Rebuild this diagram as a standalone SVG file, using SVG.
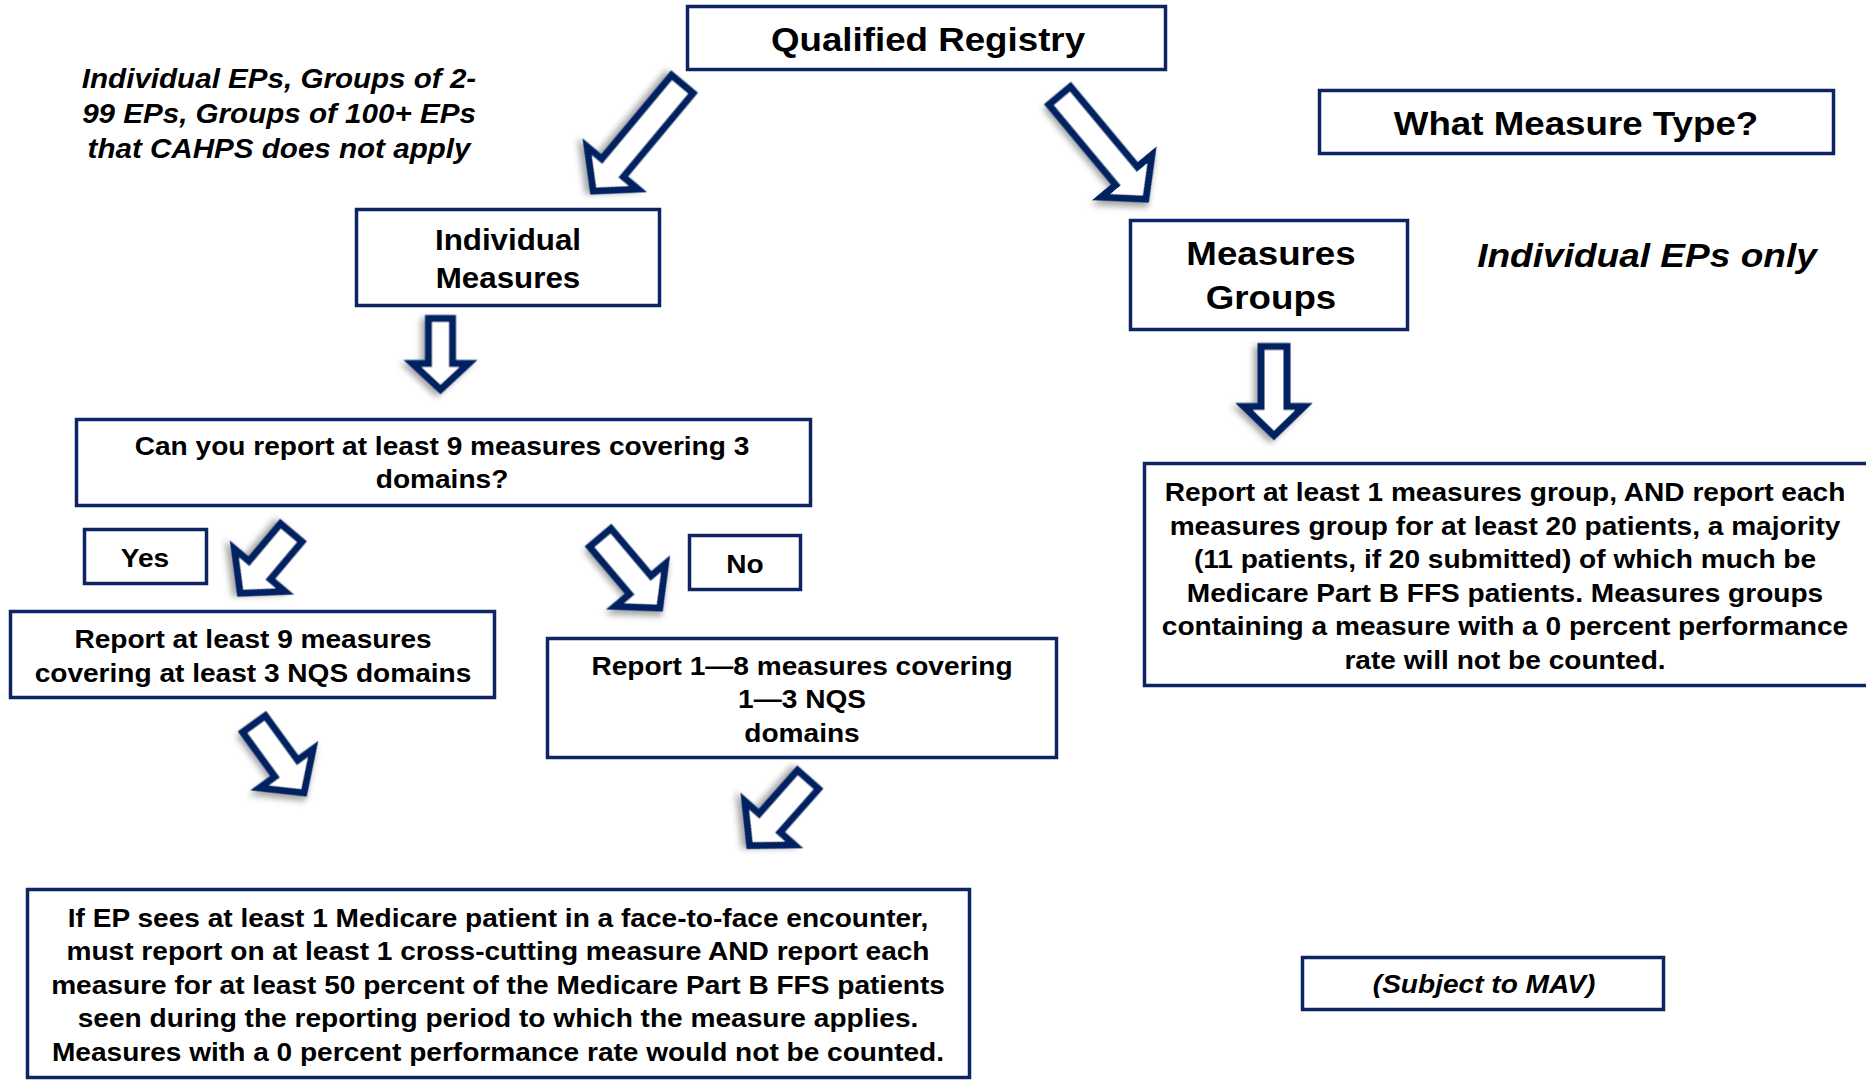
<svg xmlns="http://www.w3.org/2000/svg" width="1866" height="1081" viewBox="0 0 1866 1081">
<defs>
<filter id="sh" x="-30%" y="-30%" width="160%" height="160%">
<feDropShadow dx="3" dy="4" stdDeviation="3" flood-color="#000" flood-opacity="0.35"/>
</filter>
<style>
.box{fill:#fff;stroke:#0f2463;stroke-width:3.5}
.arr{fill:#fff;stroke:#002060;stroke-width:7;stroke-linejoin:miter;stroke-miterlimit:10;filter:url(#sh)}
text{font-family:"Liberation Sans",Arial,sans-serif;font-weight:bold;fill:#000;text-anchor:middle}
.f26{font-size:26px}
.f27{font-size:27.4px}
.f29{font-size:29px}
.f34{font-size:34px}
.it{font-style:italic}
</style>
</defs>
<rect width="1866" height="1081" fill="#fff"/>

<g id="connectors">
<path class="arr" transform="translate(682.3,84.2) rotate(129.8)" d="M0,-14 H109 V-33 L139,0 L109,33 V14 H0 Z"/>
<path class="arr" transform="translate(1059.7,95.7) rotate(50.2)" d="M0,-14 H104.5 V-33 L134.5,0 L104.5,33 V14 H0 Z"/>
<path class="arr" transform="translate(440.5,318.5) rotate(90)" d="M0,-12 H45 V-28 L71,0 L45,28 V12 H0 Z"/>
<path class="arr" transform="translate(1274,346.5) rotate(90)" d="M0,-13 H60 V-30 L89,0 L60,30 V13 H0 Z"/>
<path class="arr" transform="translate(291.2,532.7) rotate(130.1)" d="M0,-14 H49 V-33 L79,0 L49,33 V14 H0 Z"/>
<path class="arr" transform="translate(600.3,537.7) rotate(49.8)" d="M0,-14 H62 V-33 L92,0 L62,33 V14 H0 Z"/>
<path class="arr" transform="translate(254,724) rotate(54)" d="M0,-14 H55 V-33 L85,0 L55,33 V14 H0 Z"/>
<path class="arr" transform="translate(808,779.6) rotate(131.5)" d="M0,-14 H58 V-33 L88,0 L58,33 V14 H0 Z"/>
</g>

<g id="qualified-registry">
<rect class="box" x="687.5" y="6.5" width="478" height="63"/>
<text class="f34" transform="translate(928,0) scale(1.08,1)" x="0" y="51">Qualified Registry</text>
</g>

<g id="note-groups">
<text class="f27 it" transform="translate(279,0) scale(1.08,1)"><tspan x="0" y="88">Individual EPs, Groups of 2-</tspan><tspan x="0" y="123">99 EPs, Groups of 100+ EPs</tspan><tspan x="0" y="158">that CAHPS does not apply</tspan></text>
</g>

<g id="what-measure-type">
<rect class="box" x="1319.5" y="90.5" width="514" height="63"/>
<text class="f34" transform="translate(1576,0) scale(1.08,1)" x="0" y="135">What Measure Type?</text>
</g>

<g id="individual-measures">
<rect class="box" x="356.5" y="209.5" width="303" height="96"/>
<text class="f29" transform="translate(508,0) scale(1.08,1)"><tspan x="0" y="250">Individual</tspan><tspan x="0" y="288">Measures</tspan></text>
</g>

<g id="measures-groups">
<rect class="box" x="1130.5" y="220.5" width="277" height="109"/>
<text class="f34" transform="translate(1271,0) scale(1.08,1)"><tspan x="0" y="265">Measures</tspan><tspan x="0" y="309">Groups</tspan></text>
</g>

<g id="note-individual">
<text class="f34 it" transform="translate(1647,0) scale(1.09,1)" x="0" y="267">Individual EPs only</text>
</g>

<g id="can-you-report">
<rect class="box" x="76.5" y="419.5" width="734" height="86"/>
<text class="f26" transform="translate(442,0) scale(1.08,1)"><tspan x="0" y="455">Can you report at least 9 measures covering 3</tspan><tspan x="0" y="488">domains?</tspan></text>
</g>

<g id="yes">
<rect class="box" x="84.5" y="529.5" width="122" height="54"/>
<text class="f26" transform="translate(145,0) scale(1.08,1)" x="0" y="567">Yes</text>
</g>

<g id="no">
<rect class="box" x="689.5" y="535.5" width="111" height="54"/>
<text class="f26" transform="translate(745,0) scale(1.08,1)" x="0" y="573">No</text>
</g>

<g id="report-9">
<rect class="box" x="10.5" y="611.5" width="484" height="86"/>
<text class="f26" transform="translate(253,0) scale(1.08,1)"><tspan x="0" y="648">Report at least 9 measures</tspan><tspan x="0" y="682">covering at least 3 NQS domains</tspan></text>
</g>

<g id="report-1-8">
<rect class="box" x="547.5" y="638.5" width="509" height="119"/>
<text class="f26" transform="translate(802,0) scale(1.08,1)"><tspan x="0" y="675">Report 1—8 measures covering</tspan><tspan x="0" y="708">1—3 NQS</tspan><tspan x="0" y="742">domains</tspan></text>
</g>

<g id="report-group">
<rect class="box" x="1144.5" y="463.5" width="740" height="222"/>
<text class="f26" transform="translate(1505,0) scale(1.08,1)"><tspan x="0" y="501">Report at least 1 measures group, AND report each</tspan><tspan x="0" y="534.6">measures group for at least 20 patients, a majority</tspan><tspan x="0" y="568.2">(11 patients, if 20 submitted) of which much be</tspan><tspan x="0" y="601.8">Medicare Part B FFS patients. Measures groups</tspan><tspan x="0" y="635.4">containing a measure with a 0 percent performance</tspan><tspan x="0" y="669">rate will not be counted.</tspan></text>
</g>

<g id="if-ep">
<rect class="box" x="27.5" y="889.5" width="942" height="188"/>
<text class="f26" transform="translate(498,0) scale(1.08,1)"><tspan x="0" y="927">If EP sees at least 1 Medicare patient in a face-to-face encounter,</tspan><tspan x="0" y="960.5">must report on at least 1 cross-cutting measure AND report each</tspan><tspan x="0" y="994">measure for at least 50 percent of the Medicare Part B FFS patients</tspan><tspan x="0" y="1027.5">seen during the reporting period to which the measure applies.</tspan><tspan x="0" y="1061">Measures with a 0 percent performance rate would not be counted.</tspan></text>
</g>

<g id="subject-to-mav">
<rect class="box" x="1302.5" y="957.5" width="361" height="52"/>
<text class="f26 it" transform="translate(1484,0) scale(1.08,1)" x="0" y="993">(Subject to MAV)</text>
</g>
</svg>
